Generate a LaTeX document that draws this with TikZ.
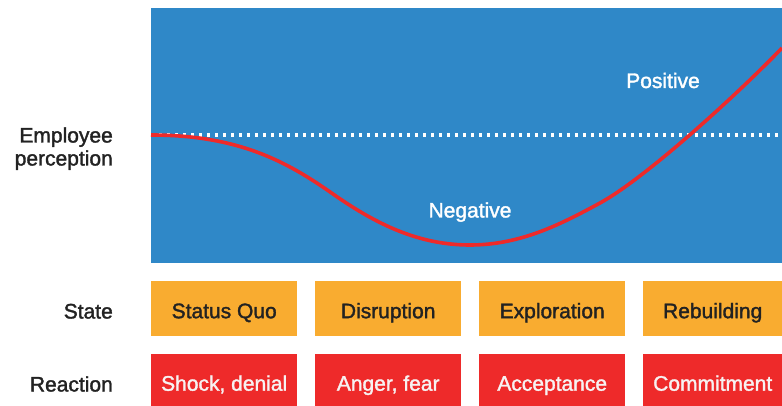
\documentclass[tikz,border=0pt]{standalone}
\usepackage{fontspec}
\setmainfont{Liberation Sans}[FakeBold=1.6]
\definecolor{bluebg}{HTML}{2F88C8}
\definecolor{orangebox}{HTML}{F9AC30}
\definecolor{redbox}{HTML}{EE2A2A}
\definecolor{darktext}{HTML}{222222}
\definecolor{lighttext}{HTML}{F7F2F2}
\tikzset{
  labelfont/.style={font=\fontsize{21}{23}\selectfont},
  statebox/.style={fill=orangebox, draw=none, anchor=north west, minimum height=55pt, inner sep=0pt, text=darktext, labelfont, text height=19pt, text depth=0pt},
  reactbox/.style={fill=redbox, draw=none, anchor=north west, minimum height=52pt, inner sep=0pt, text=lighttext, labelfont, text height=21pt, text depth=0pt},
  rowlabel/.style={anchor=base east, inner sep=0pt, text=darktext, labelfont},
  graphlabel/.style={anchor=base, inner sep=0pt, text=white, labelfont},
  curveline/.style={draw=redbox, line width=3.6pt},
  dotline/.style={draw=white, line width=3.3pt, dash pattern=on 3.4pt off 4.6pt}
}
\begin{document}
\begin{tikzpicture}[x=1pt,y=-1pt]
\useasboundingbox (0,0) rectangle (782,406);
% plot area
\node[fill=bluebg, draw=none, anchor=north west, minimum width=631pt, minimum height=255pt, inner sep=0pt] (plot) at (151,8) {};
\coordinate (dotL) at (151,135);
\coordinate (dotR) at (782,135);
\draw[dotline] (dotL) -- (dotR);
\draw[curveline] (151,135) .. controls (240,135) and (288,162.5) .. (333,194)
  .. controls (378,225.5) and (420,245) .. (470,245)
  .. controls (520,245) and (560,224.8) .. (600,203)
  .. controls (645,178.5) and (737,94.8) .. (782,48);
\node[graphlabel] (pos) at (663,88) {Positive};
\node[graphlabel] (neg) at (470,217.5) {Negative};
% row labels
\node[rowlabel] (emp1) at (113,142.5) {Employee};
\node[rowlabel] (emp2) at (113,165.5) {perception};
\node[rowlabel] (state) at (113,318.5) {State};
\node[rowlabel] (react) at (113,391.5) {Reaction};
% state boxes
\node[statebox, minimum width=146pt] (s1) at (151,281) {Status Quo};
\node[statebox, minimum width=146pt] (s2) at (315,281) {Disruption};
\node[statebox, minimum width=146pt] (s3) at (479,281) {Exploration};
\node[statebox, minimum width=139pt] (s4) at (643,281) {Rebuilding};
% reaction boxes
\node[reactbox, minimum width=146pt] (r1) at (151,354) {Shock, denial};
\node[reactbox, minimum width=146pt] (r2) at (315,354) {Anger, fear};
\node[reactbox, minimum width=146pt] (r3) at (479,354) {Acceptance};
\node[reactbox, minimum width=139pt] (r4) at (643,354) {Commitment};
\end{tikzpicture}
\end{document}
